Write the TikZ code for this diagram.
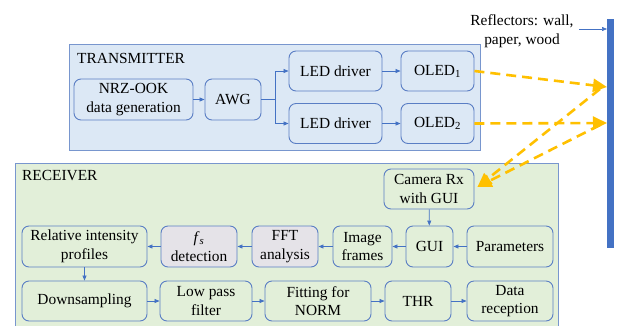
\documentclass[tikz,border=0pt]{standalone}
\usepackage{fontspec}
\setmainfont{Liberation Serif}
\usetikzlibrary{arrows.meta,calc}
\definecolor{txfill}{HTML}{DCE8F5}
\definecolor{rxfill}{HTML}{E2EFD9}
\definecolor{grayfill}{HTML}{E5E3E8}
\definecolor{boxline}{HTML}{5A7EC4}
\definecolor{contline}{HTML}{7896CE}
\definecolor{arrblue}{HTML}{4472C4}
\definecolor{beam}{HTML}{FFC000}
\tikzset{
  blk/.style={draw=boxline, line width=0.9pt, rounded corners=7pt, align=center,
    inner sep=0pt, font=\fontsize{15.4}{18.5}\selectfont},
  txblk/.style={blk, fill=txfill},
  rxblk/.style={blk, fill=rxfill},
  gyblk/.style={blk, fill=grayfill},
  cont/.style={draw=contline, line width=1pt},
  flow/.style={draw=arrblue, line width=0.7pt, -{Triangle[length=5pt,width=4pt]}},
  ray/.style={draw=beam, line width=2.6pt, dash pattern=on 10pt off 6pt,
    -{Triangle[length=14pt,width=13pt]}},
  lbl/.style={font=\fontsize{15.4}{18.5}\selectfont, inner sep=0pt}
}
\begin{document}
\begin{tikzpicture}[x=1pt,y=-1pt]
\useasboundingbox (0,0) rectangle (619,325);
\clip (0,0) rectangle (619,325);
% containers
\draw[cont, fill=txfill] (69,44) rectangle (480,150);
\node[lbl, anchor=west] (txl) at (77,58) {TRANSMITTER};
\draw[cont, fill=rxfill] (15,163) rectangle (558,330);
\node[lbl, anchor=west] (rxl) at (22,176) {RECEIVER};
% wall
\fill[arrblue] (607,19) rectangle (614,248);
\coordinate (wtop) at (607,29);
\node[lbl, align=center] (refl) at (522,31) {Reflectors: wall,\\paper, wood};
\coordinate (rs) at (579,29);
\draw[flow, line width=0.5pt] (rs) -- (wtop);
% transmitter
\node[txblk, minimum width=119pt, minimum height=41pt] (nrz) at (133.5,99.5) {NRZ-OOK\\data generation};
\node[txblk, minimum width=56pt, minimum height=41pt] (awg) at (233,99.5) {AWG};
\node[txblk, minimum width=93pt, minimum height=40pt] (led1) at (335.5,71) {LED driver};
\node[txblk, minimum width=93pt, minimum height=40pt] (led2) at (335.5,123.5) {LED driver};
\node[txblk, minimum width=73pt, minimum height=40pt] (oled1) at (437.5,71) {OLED\textsubscript{1}};
\node[txblk, minimum width=73pt, minimum height=40pt] (oled2) at (437.5,123.5) {OLED\textsubscript{2}};
\draw[flow] (nrz) -- (awg);
\draw[flow] (awg.east) -- ++(14,0) |- (led1.west);
\draw[flow] (awg.east) -- ++(14,0) |- (led2.west);
\draw[flow] (led1) -- (oled1);
\draw[flow] (led2) -- (oled2);
% receiver
\node[rxblk, minimum width=90pt, minimum height=40pt] (cam) at (429,189) {Camera Rx\\with GUI};
\node[rxblk, minimum width=125pt, minimum height=41pt] (rel) at (84.5,246.5) {Relative intensity\\profiles};
\node[gyblk, minimum width=76pt, minimum height=41pt] (fs) at (199,246.5) {\textit{f}\textsubscript{\textit{s}}\\detection};
\node[gyblk, minimum width=66pt, minimum height=41pt] (fft) at (285,246.5) {FFT\\analysis};
\node[rxblk, minimum width=59pt, minimum height=41pt] (img) at (362.5,246.5) {Image\\frames};
\node[rxblk, minimum width=47pt, minimum height=41pt] (gui) at (429.5,246.5) {GUI};
\node[rxblk, minimum width=86pt, minimum height=41pt] (par) at (510,246.5) {Parameters};
\node[rxblk, minimum width=125pt, minimum height=40pt] (down) at (84.5,301) {Downsampling};
\node[rxblk, minimum width=92pt, minimum height=40pt] (lpf) at (206,301) {Low pass\\filter};
\node[rxblk, minimum width=106pt, minimum height=40pt] (fit) at (318,301) {Fitting for\\NORM};
\node[rxblk, minimum width=66pt, minimum height=40pt] (thr) at (418,301) {THR};
\node[rxblk, minimum width=86pt, minimum height=40pt] (dat) at (510,301) {Data\\reception};
\draw[flow] (cam) -- (gui);
\draw[flow] (par) -- (gui);
\draw[flow] (gui) -- (img);
\draw[flow] (img) -- (fft);
\draw[flow] (fft) -- (fs);
\draw[flow] (fs) -- (rel);
\draw[flow] (rel) -- (down);
\draw[flow] (down) -- (lpf);
\draw[flow] (lpf) -- (fit);
\draw[flow] (fit) -- (thr);
\draw[flow] (thr) -- (dat);
% optical beams
\coordinate (w1) at (607,87);
\coordinate (w2) at (607,123);
\coordinate (r1) at (600,89);
\coordinate (r2) at (600,125);
\coordinate (ct) at ($(cam.east)+(3,-2)$);
\draw[ray] (oled1.east) -- (w1);
\draw[ray] (oled2.east) -- (w2);
\draw[ray] (r2) -- (ct);
\draw[ray] (r1) -- (ct);
\end{tikzpicture}
\end{document}
